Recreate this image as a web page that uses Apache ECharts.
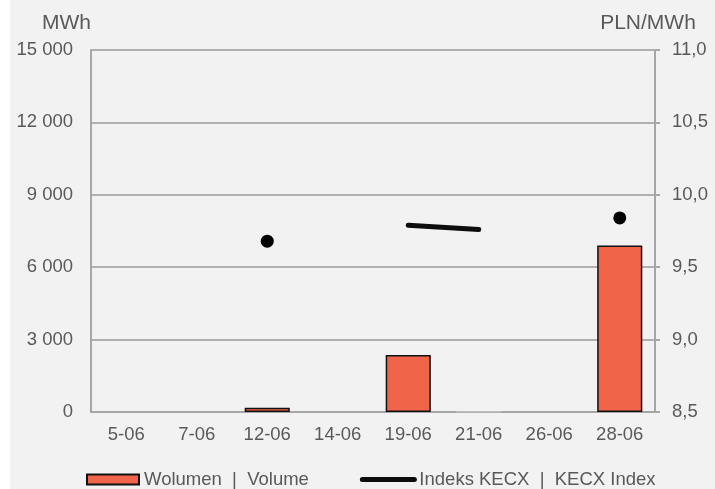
<!DOCTYPE html>
<html>
<head>
<meta charset="utf-8">
<script src="https://cdn.jsdelivr.net/npm/echarts@6/dist/echarts.min.js"></script>
<style>
  html, body { margin: 0; padding: 0; background: #ffffff; }
  #chart { position: absolute; left: 10px; top: 0; width: 705px; height: 489px; }
</style>
</head>
<body>
<div id="chart"></div>
<script>
// ---- data ----
const categories = ['5-06', '7-06', '12-06', '14-06', '19-06', '21-06', '26-06', '28-06'];
const volume = [null, null, 180, null, 2360, 15, null, 6900];           // MWh
const kecxIndex = [null, null, 9.68, null, 9.79, 9.76, null, 9.84];    // PLN/MWh
const leftTicks = { min: 0, max: 15000, interval: 3000 };
const rightTicks = { min: 8.5, max: 11.0, interval: 0.5 };
const seriesNames = ['Wolumen  |  Volume', 'Indeks KECX  |  KECX Index'];

// ---- styling ----
const FONT = 'Liberation Sans, Arial, sans-serif';
const TXT = '#595959';
const AXIS = '#A6A6A6';

// isolated points (no neighbour) get a marker, segments don't
const isolated = kecxIndex.map((v, i) =>
  v != null && kecxIndex[i - 1] == null && kecxIndex[i + 1] == null);

const volumeData = volume.map(v =>
  (v != null && v < 50)
    ? { value: v, itemStyle: { borderColor: '#BDBDBD', color: '#D9D9D9' } }
    : v);

const chart = echarts.init(document.getElementById('chart'), null, { renderer: 'canvas' });
chart.setOption({
  backgroundColor: '#F2F2F2',
  animation: false,
  textStyle: { fontFamily: FONT, color: TXT },
  grid: { left: 81, right: 60, top: 50, bottom: 77, containLabel: false },
  legend: {
    left: 76, top: 470, padding: 0,
    itemWidth: 52, itemHeight: 10, itemGap: 51,
    textStyle: { fontFamily: FONT, fontSize: 18.5, color: TXT },
    data: [
      { name: seriesNames[0], icon: 'rect' },
      { name: seriesNames[1], itemStyle: { opacity: 0 }, lineStyle: { width: 5, color: '#0D0D0D', cap: 'round' } }
    ]
  },
  xAxis: {
    type: 'category',
    data: categories,
    boundaryGap: true,
    axisLine: { show: true, lineStyle: { color: AXIS, width: 2 } },
    axisTick: { show: false },
    axisLabel: { fontFamily: FONT, fontSize: 18.5, color: TXT, margin: 13, interval: 0 }
  },
  yAxis: [
    {
      type: 'value',
      min: leftTicks.min, max: leftTicks.max, interval: leftTicks.interval,
      name: 'MWh', nameLocation: 'end', nameGap: 27,
      nameTextStyle: { fontFamily: FONT, fontSize: 21, color: TXT, align: 'right', verticalAlign: 'middle' },
      axisLine: { show: true, lineStyle: { color: AXIS, width: 2 } },
      axisTick: { show: false },
      splitLine: { show: true, lineStyle: { color: '#B0B0B0', width: 2 } },
      axisLabel: {
        fontFamily: FONT, fontSize: 18.5, color: TXT, margin: 18,
        formatter: v => String(v).replace(/\B(?=(\d{3})+(?!\d))/g, ' ')
      }
    },
    {
      type: 'value', position: 'right',
      min: rightTicks.min, max: rightTicks.max, interval: rightTicks.interval,
      name: 'PLN/MWh', nameLocation: 'end', nameGap: 27,
      nameTextStyle: { fontFamily: FONT, fontSize: 21, color: TXT, align: 'center', verticalAlign: 'middle', padding: [0, 14, 0, 0] },
      axisLine: { show: true, lineStyle: { color: AXIS, width: 2 } },
      axisTick: { show: true, inside: false, length: 5, lineStyle: { color: AXIS, width: 2 } },
      splitLine: { show: false },
      axisLabel: {
        fontFamily: FONT, fontSize: 18.5, color: TXT, margin: 17,
        formatter: v => v.toFixed(1).replace('.', ',')
      }
    }
  ],
  series: [
    {
      name: seriesNames[0],
      type: 'bar',
      yAxisIndex: 0,
      data: volumeData,
      barWidth: '64%',
      itemStyle: { color: '#F0654A', borderColor: '#111111', borderWidth: 1.5 }
    },
    {
      name: seriesNames[1],
      type: 'line',
      yAxisIndex: 1,
      data: kecxIndex,
      connectNulls: false,
      showSymbol: true,
      showAllSymbol: true,
      symbol: (val, params) => isolated[params.dataIndex] ? 'circle' : 'none',
      symbolSize: 13,
      itemStyle: { color: '#000000' },
      lineStyle: { color: '#0D0D0D', width: 5, cap: 'round' },
      z: 5
    }
  ]
});
</script>
</body>
</html>
